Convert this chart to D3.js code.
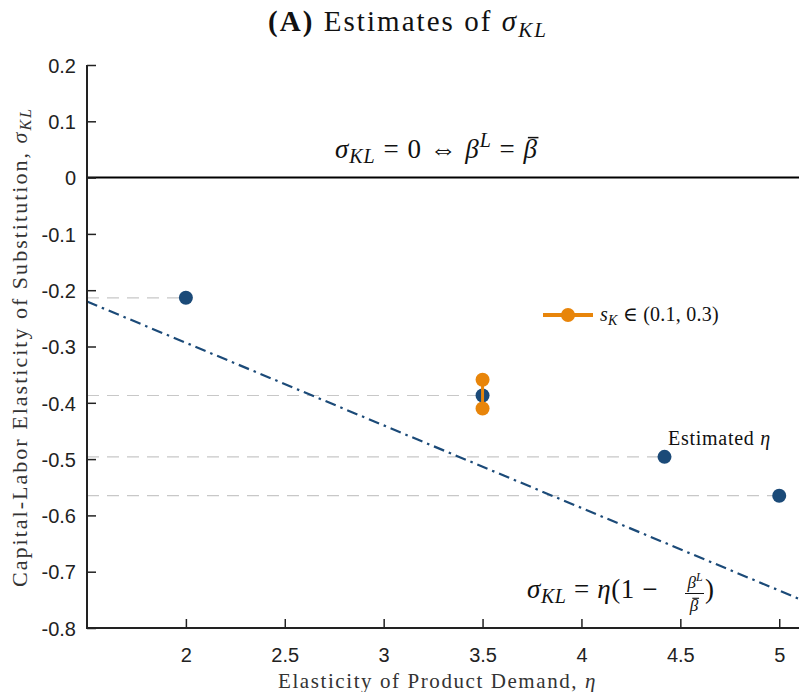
<!DOCTYPE html>
<html>
<head>
<meta charset="utf-8">
<script src="https://cdn.jsdelivr.net/npm/d3@7"></script>
<style>
  body { margin: 0; background: #fff; }
  svg { display: block; }
</style>
</head>
<body>
<svg id="chart" width="799" height="692"></svg>
<script>
// ---- data ----
const etaEstimates = [2, 3.5, 4.42, 5];
const sigmaEstimates = [-0.2135, -0.387, -0.496, -0.565];
const orangeEta = [3.5, 3.5];
const orangeSigma = [-0.359, -0.41];
const lineEta = [1.5, 5.1];
const lineSlope = -0.1467; // sigma = eta * (1 - beta^L / beta-bar)
const xTicks = [2, 2.5, 3, 3.5, 4, 4.5, 5];
const yTicks = [0.2, 0.1, 0, -0.1, -0.2, -0.3, -0.4, -0.5, -0.6, -0.7, -0.8];
const xDomain = [1.5, 5.1];
const yDomain = [-0.8, 0.2];

const blue = "#1b4a78";
const orange = "#e8850a";
const serif = "'Liberation Serif', 'DejaVu Serif', serif";
const sans = "'Liberation Sans', Arial, sans-serif";

const svg = d3.select("#chart");
const m = { left: 87, right: 799, top: 65, bottom: 628 };
const x = d3.scaleLinear().domain(xDomain).range([m.left, m.right]);
const y = d3.scaleLinear().domain(yDomain).range([m.bottom, m.top]);

// stretch a text element's letter spacing so it spans a target width
function fitWidth(sel, W) {
  const node = sel.node();
  const w = node.getComputedTextLength();
  const n = node.getNumberOfChars();
  const ls = (W - w) / n;
  sel.style("letter-spacing", ls + "px");
  return ls;
}
// draw a bar over the last character of a text element
function barOverLast(sel, parent, stroke) {
  const node = sel.node();
  const i = node.getNumberOfChars() - 1;
  const e = node.getExtentOfChar(i);
  const ls = parseFloat(sel.style("letter-spacing")) || 0;
  const x0 = e.x + e.width * 0.3, x1 = e.x + e.width - ls + e.width * 0.1;
  const yb = e.y + e.height * 0.12;
  parent.append("line").attr("x1", x0).attr("x2", x1).attr("y1", yb).attr("y2", yb)
    .attr("stroke", "#111").attr("stroke-width", stroke || 1.3);
}

// gray dashed guides
svg.append("g").selectAll("line").data(etaEstimates).join("line")
  .attr("x1", x(xDomain[0])).attr("x2", d => x(d))
  .attr("y1", (d, i) => y(sigmaEstimates[i])).attr("y2", (d, i) => y(sigmaEstimates[i]))
  .attr("stroke", "#c8c8c8").attr("stroke-width", 1.2).attr("stroke-dasharray", "12,8");

// zero line
svg.append("line")
  .attr("x1", x(xDomain[0])).attr("x2", x(xDomain[1]))
  .attr("y1", y(0)).attr("y2", y(0))
  .attr("stroke", "#000").attr("stroke-width", 2);

// dash-dot line
svg.append("path")
  .datum(lineEta.map(e => [e, e * lineSlope]))
  .attr("d", d3.line().x(d => x(d[0])).y(d => y(d[1])))
  .attr("fill", "none").attr("stroke", blue).attr("stroke-width", 2.2)
  .attr("stroke-dasharray", "11,5,2.5,5");

// axes
const xAxis = d3.axisBottom(x).tickValues(xTicks).tickSize(0).tickPadding(0).tickFormat(d => String(d));
const gx = svg.append("g").attr("transform", `translate(0,${m.bottom})`).call(xAxis);
gx.select(".domain").remove();
gx.selectAll(".tick text").attr("y", 34).attr("dy", 0)
  .style("font-family", sans).style("font-size", "20px").attr("fill", "#222");
gx.selectAll(".tick").append("line").attr("y1", 0).attr("y2", -9).attr("stroke", "#222").attr("stroke-width", 1.5);

const yAxis = d3.axisLeft(y).tickValues(yTicks).tickSize(0).tickPadding(0)
  .tickFormat(d => d === 0 ? "0" : d3.format(".1f")(d).replace("\u2212", "-"));
const gy = svg.append("g").attr("transform", `translate(${m.left},0)`).call(yAxis);
gy.select(".domain").remove();
gy.selectAll(".tick text").attr("x", -11).attr("dy", "0.36em")
  .style("font-family", sans).style("font-size", "20px").attr("fill", "#222");
gy.selectAll(".tick").append("line").attr("x1", 0).attr("x2", 9).attr("stroke", "#222").attr("stroke-width", 1.5);

// axis lines
svg.append("path")
  .attr("d", `M${m.left},${y(yDomain[1])}V${m.bottom}H${m.right}`)
  .attr("fill", "none").attr("stroke", "#222").attr("stroke-width", 2);

// blue points
svg.append("g").selectAll("circle").data(etaEstimates).join("circle")
  .attr("cx", d => x(d)).attr("cy", (d, i) => y(sigmaEstimates[i]))
  .attr("r", 7).attr("fill", blue);

// orange range
svg.append("line")
  .attr("x1", x(orangeEta[0])).attr("x2", x(orangeEta[1]))
  .attr("y1", y(orangeSigma[0])).attr("y2", y(orangeSigma[1]))
  .attr("stroke", orange).attr("stroke-width", 3);
svg.append("g").selectAll("circle").data(orangeEta).join("circle")
  .attr("cx", d => x(d)).attr("cy", (d, i) => y(orangeSigma[i]))
  .attr("r", 7).attr("fill", orange);

// legend
const lg = svg.append("g").attr("transform", "translate(543,315)");
lg.append("line").attr("x1", 0).attr("x2", 50).attr("stroke", orange).attr("stroke-width", 4);
lg.append("circle").attr("cx", 25).attr("r", 7).attr("fill", orange);
const lt = lg.append("text").attr("x", 57).attr("y", 6)
  .style("font-family", serif).style("font-size", "20px").attr("fill", "#111");
lt.append("tspan").attr("font-style", "italic").text("s");
lt.append("tspan").attr("font-style", "italic").attr("font-size", "14px").attr("dy", 4).text("K");
lt.append("tspan").attr("dy", -4).text(" \u2208 (0.1, 0.3)");
fitWidth(lt, 119);

// Estimated eta
const et = svg.append("text").attr("x", 668).attr("y", 445)
  .style("font-family", serif).style("font-size", "20px").attr("fill", "#111");
et.append("tspan").text("Estimated ");
et.append("tspan").attr("font-style", "italic").text("\u03b7");
fitWidth(et, 103);

// title
const tt = svg.append("text").attr("x", 268).attr("y", 31)
  .style("font-family", serif).style("font-size", "29px").attr("fill", "#111");
tt.append("tspan").attr("font-weight", "bold").text("(A)");
tt.append("tspan").text(" Estimates of ");
tt.append("tspan").attr("font-style", "italic").text("\u03c3");
tt.append("tspan").attr("font-style", "italic").attr("font-size", "21px").attr("dy", 6).text("KL");
fitWidth(tt, 280);

// zero annotation
const zg = svg.append("g");
const za = zg.append("text").attr("x", 335).attr("y", 158)
  .style("font-family", serif).style("font-size", "27px").attr("fill", "#111");
za.append("tspan").attr("font-style", "italic").text("\u03c3");
za.append("tspan").attr("font-style", "italic").attr("font-size", "20px").attr("dy", 5).text("KL");
za.append("tspan").attr("dy", -5).text(" = 0 \u21d4 ");
za.append("tspan").attr("font-style", "italic").text("\u03b2");
za.append("tspan").attr("font-style", "italic").attr("font-size", "20px").attr("dy", -11).text("L");
za.append("tspan").attr("dy", 11).text(" = ");
za.append("tspan").attr("font-style", "italic").text("\u03b2");
fitWidth(za, 203);
barOverLast(za, zg, 1.5);

// line annotation
const la = svg.append("g");
const lat = la.append("text").attr("x", 527).attr("y", 598)
  .style("font-family", serif).style("font-size", "27px").attr("fill", "#111");
lat.append("tspan").attr("font-style", "italic").text("\u03c3");
lat.append("tspan").attr("font-style", "italic").attr("font-size", "20px").attr("dy", 5).text("KL");
lat.append("tspan").attr("dy", -5).text(" = ");
lat.append("tspan").attr("font-style", "italic").text("\u03b7");
lat.append("tspan").text("(1 \u2212");
fitWidth(lat, 131);
const fx = 695;
const num = la.append("text").attr("x", fx).attr("y", 588).attr("text-anchor", "middle")
  .style("font-family", serif).style("font-size", "17px").attr("fill", "#111");
num.append("tspan").attr("font-style", "italic").text("\u03b2");
num.append("tspan").attr("font-style", "italic").attr("font-size", "12px").attr("dy", -7).text("L");
la.append("line").attr("x1", fx - 10).attr("x2", fx + 9).attr("y1", 593.5).attr("y2", 593.5)
  .attr("stroke", "#111").attr("stroke-width", 1);
const den = la.append("text").attr("x", fx - 1).attr("y", 611).attr("text-anchor", "middle")
  .attr("font-style", "italic")
  .style("font-family", serif).style("font-size", "17px").attr("fill", "#111").text("\u03b2");
barOverLast(den, la, 1.1);
la.append("text").attr("x", 705).attr("y", 598)
  .style("font-family", serif).style("font-size", "27px").attr("fill", "#111").text(")");

// x label
const xl = svg.append("text").attr("x", 278).attr("y", 688)
  .style("font-family", serif).style("font-size", "21px").attr("fill", "#333");
xl.append("tspan").text("Elasticity of Product Demand, ");
xl.append("tspan").attr("font-style", "italic").text("\u03b7");
fitWidth(xl, 319);

// y label
const yl = svg.append("text").attr("transform", "translate(27,587) rotate(-90)")
  .style("font-family", serif).style("font-size", "22px").attr("fill", "#333");
yl.append("tspan").text("Capital-Labor Elasticity of Substitution, ");
yl.append("tspan").attr("font-style", "italic").text("\u03c3");
yl.append("tspan").attr("font-style", "italic").attr("font-size", "16px").attr("dy", 4).text("KL");
fitWidth(yl, 480);
</script>
</body>
</html>
